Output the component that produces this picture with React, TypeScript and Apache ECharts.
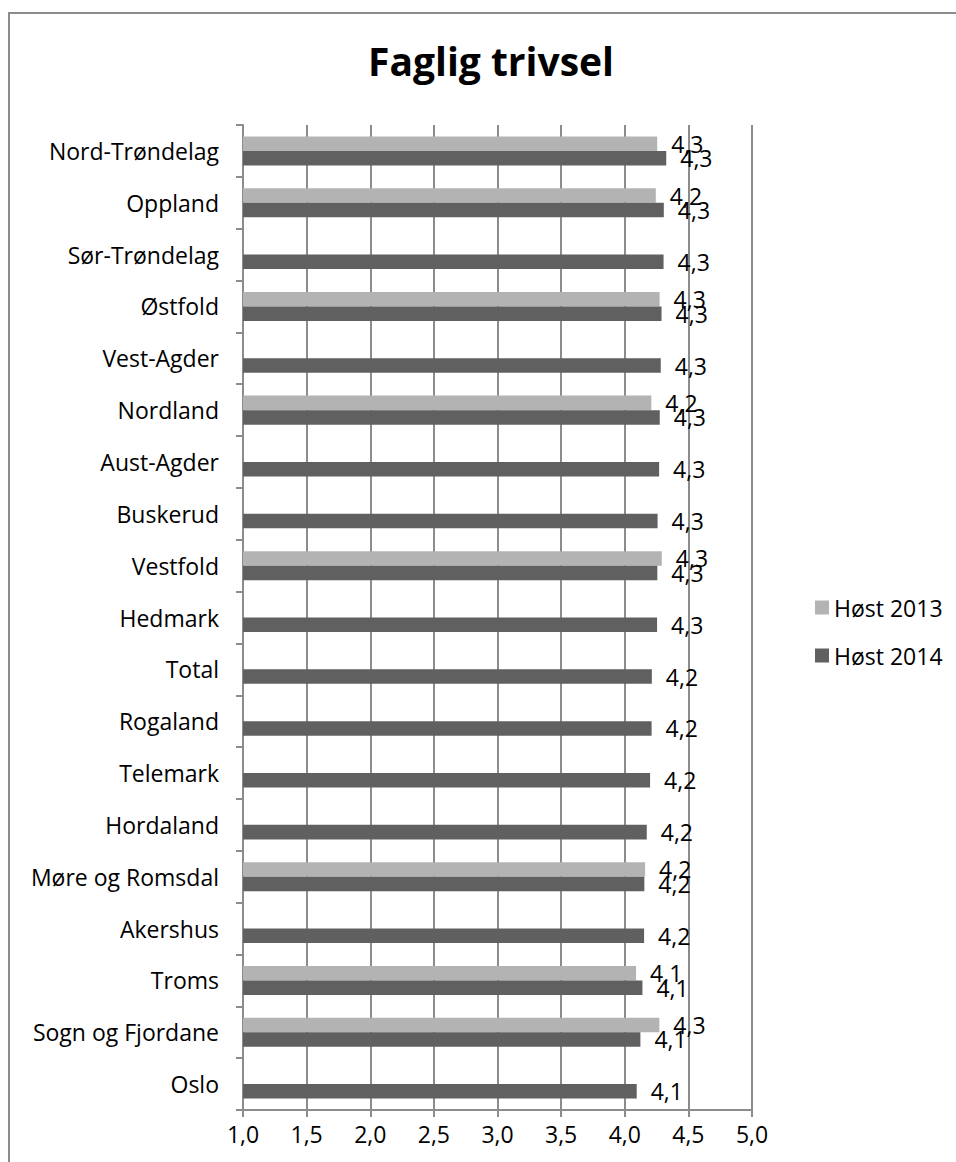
import React, { useEffect, useRef } from "react";
import * as echarts from "echarts";

const categories = [
  "Nord-Trøndelag", "Oppland", "Sør-Trøndelag", "Østfold", "Vest-Agder", "Nordland",
  "Aust-Agder", "Buskerud", "Vestfold", "Hedmark", "Total", "Rogaland", "Telemark",
  "Hordaland", "Møre og Romsdal", "Akershus", "Troms", "Sogn og Fjordane", "Oslo",
];
const host2013: (number | null)[] = [
  4.255, 4.244, null, 4.274, null, 4.209, null, null, 4.291, null, null, null, null,
  null, 4.16, null, 4.089, 4.272, null,
];
const host2014: number[] = [
  4.326, 4.307, 4.305, 4.289, 4.283, 4.275, 4.27, 4.258, 4.256, 4.254, 4.213, 4.211,
  4.199, 4.173, 4.154, 4.152, 4.139, 4.123, 4.094,
];
const seriesNames = ["Høst 2013", "Høst 2014"];
const xTicks = { min: 1, max: 5, interval: 0.5 };

const FONT = "'Open Sans', sans-serif";
const comma = (v: number, d: number) => v.toFixed(d).replace(".", ",");

export default function App() {
  const ref = useRef<HTMLDivElement>(null);
  useEffect(() => {
    if (!ref.current) return;
    const chart = echarts.init(ref.current, undefined, { renderer: "svg" });
    const gridColor = "#8c8c8c";
    const labelCfg = {
      show: true,
      position: "right" as const,
      distance: 14,
      fontSize: 23,
      fontFamily: FONT,
      color: "#000",
      formatter: (p: any) => (p.value == null ? "" : comma(p.value, 1)),
    };
    chart.setOption({
      animation: false,
      backgroundColor: "#fff",
      title: {
        text: "Faglig trivsel",
        left: 486,
        top: 36,
        textAlign: "center",
        textStyle: { fontSize: 39, fontWeight: "bold", fontFamily: FONT, color: "#000" },
      },
      graphic: [
        {
          type: "rect",
          shape: { x: 9, y: 13, width: 1200, height: 1400 },
          style: { fill: "none", stroke: "#8c8c8c", lineWidth: 2 },
          silent: true,
        },
      ],
      legend: {
        orient: "vertical",
        left: 810,
        top: 591,
        itemWidth: 14,
        itemHeight: 14,
        itemGap: 25,
        icon: "rect",
        data: seriesNames,
        textStyle: { fontSize: 23, fontFamily: FONT, color: "#000", padding: [0, 0, 0, 0] },
      },
      grid: { left: 243, right: 204, top: 125, bottom: 52, containLabel: false },
      xAxis: {
        type: "value",
        min: xTicks.min,
        max: xTicks.max,
        interval: xTicks.interval,
        axisLine: { show: true, lineStyle: { color: gridColor, width: 2 } },
        axisTick: { show: true, length: 7, lineStyle: { color: gridColor, width: 2 } },
        splitLine: { show: true, lineStyle: { color: gridColor, width: 2 } },
        axisLabel: {
          margin: 12,
          fontSize: 23,
          fontFamily: FONT,
          color: "#000",
          formatter: (v: number) => comma(v, 1),
        },
      },
      yAxis: {
        type: "category",
        inverse: true,
        data: categories,
        axisLine: { show: true, lineStyle: { color: gridColor, width: 2 } },
        axisTick: { show: true, length: 7, lineStyle: { color: gridColor, width: 2 } },
        axisLabel: { margin: 24, fontSize: 23, fontFamily: FONT, color: "#000" },
      },
      series: [
        {
          name: seriesNames[0],
          type: "bar",
          data: host2013,
          barGap: "0%",
          barCategoryGap: "44%",
          itemStyle: { color: "#b3b3b3" },
          label: labelCfg,
        },
        {
          name: seriesNames[1],
          type: "bar",
          data: host2014,
          barGap: "0%",
          barCategoryGap: "44%",
          itemStyle: { color: "#606060" },
          label: labelCfg,
        },
      ],
    });
    return () => chart.dispose();
  }, []);
  return (
    <div
      ref={ref}
      style={{ position: "fixed", left: 0, top: 0, width: 956, height: 1162, overflow: "hidden" }}
    />
  );
}
